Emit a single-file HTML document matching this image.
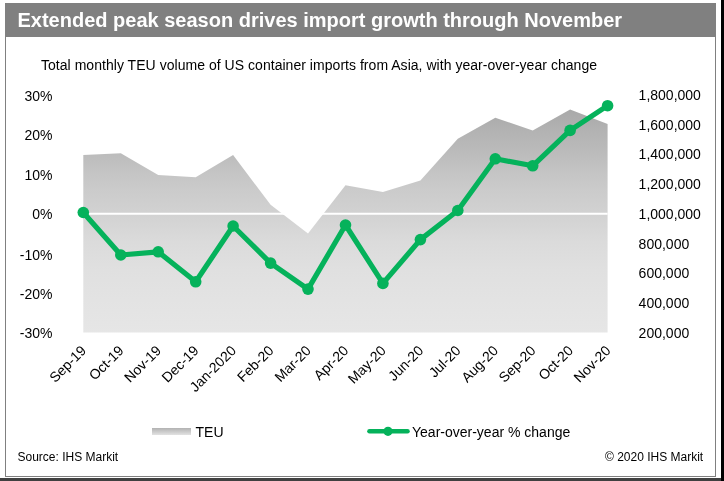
<!DOCTYPE html>
<html><head><meta charset="utf-8"><style>
html,body{margin:0;padding:0;background:#fff;}
body{width:724px;height:481px;overflow:hidden;position:relative;}
svg{position:absolute;left:0;top:0;will-change:transform;}
text{font-family:"Liberation Sans",Arial,sans-serif;font-size:14px;fill:#000;}
</style></head><body>
<svg width="724" height="481" viewBox="0 0 724 481">
<defs>
<linearGradient id="ag" x1="0" y1="108" x2="0" y2="333" gradientUnits="userSpaceOnUse">
<stop offset="0.000" stop-color="rgb(168,168,168)"/>
<stop offset="0.107" stop-color="rgb(179,179,179)"/>
<stop offset="0.196" stop-color="rgb(187,187,187)"/>
<stop offset="0.293" stop-color="rgb(197,197,197)"/>
<stop offset="0.364" stop-color="rgb(203,203,203)"/>
<stop offset="0.427" stop-color="rgb(207,207,207)"/>
<stop offset="0.516" stop-color="rgb(213,213,213)"/>
<stop offset="0.596" stop-color="rgb(219,219,219)"/>
<stop offset="0.720" stop-color="rgb(224,224,224)"/>
<stop offset="0.853" stop-color="rgb(227,227,227)"/>
<stop offset="1.000" stop-color="rgb(230,230,230)"/>
</linearGradient>
<linearGradient id="lg" x1="0" y1="0" x2="0" y2="1">
<stop offset="0" stop-color="#b2b2b2"/>
<stop offset="1" stop-color="#e2e2e2"/>
</linearGradient>
</defs>
<rect x="0" y="0" width="724" height="481" fill="#fff"/>
<rect x="5.5" y="3.5" width="710" height="473" fill="none" stroke="#808080" stroke-width="1"/>
<rect x="5" y="3" width="711" height="34" fill="#808080"/>
<rect x="721" y="0" width="3" height="481" fill="#000"/>
<rect x="0" y="478" width="721" height="3" fill="#404040"/>
<text x="17.5" y="26.6" style="font-size:20px;font-weight:bold;fill:#fff">Extended peak season drives import growth through November</text>
<text x="41" y="69.5" textLength="556" lengthAdjust="spacing">Total monthly TEU volume of US container imports from Asia, with year-over-year change</text>
<path d="M83.3,332.6 L83.3,155 120.8,153.3 158.2,175.1 195.7,177.3 233.1,155 270.6,204.8 308,233.4 345.5,185.2 382.9,192 420.4,180.6 457.8,138.7 495.3,117.8 532.7,130.4 570.1,109.5 607.6,124 L607.6,332.6 Z" fill="url(#ag)"/>
<line x1="83.3" y1="213.8" x2="607.6" y2="213.8" stroke="#fff" stroke-width="2"/>
<polyline points="83.3,212.5 120.8,255 158.2,251.8 195.7,281.8 233.1,226 270.6,263.1 308,289.1 345.5,225 382.9,283.4 420.4,239.6 457.8,210.5 495.3,158.8 532.7,165.8 570.1,130.4 607.6,105.7" fill="none" stroke="#05b25b" stroke-width="5.2" stroke-linejoin="round" stroke-linecap="round"/>
<g fill="#05b25b"><circle cx="83.3" cy="212.5" r="5.8"/><circle cx="120.8" cy="255" r="5.8"/><circle cx="158.2" cy="251.8" r="5.8"/><circle cx="195.7" cy="281.8" r="5.8"/><circle cx="233.1" cy="226" r="5.8"/><circle cx="270.6" cy="263.1" r="5.8"/><circle cx="308" cy="289.1" r="5.8"/><circle cx="345.5" cy="225" r="5.8"/><circle cx="382.9" cy="283.4" r="5.8"/><circle cx="420.4" cy="239.6" r="5.8"/><circle cx="457.8" cy="210.5" r="5.8"/><circle cx="495.3" cy="158.8" r="5.8"/><circle cx="532.7" cy="165.8" r="5.8"/><circle cx="570.1" cy="130.4" r="5.8"/><circle cx="607.6" cy="105.7" r="5.8"/></g>
<text x="52.5" y="100.6" text-anchor="end">30%</text>
<text x="52.5" y="140.3" text-anchor="end">20%</text>
<text x="52.5" y="179.9" text-anchor="end">10%</text>
<text x="52.5" y="219.4" text-anchor="end">0%</text>
<text x="52.5" y="259.7" text-anchor="end">-10%</text>
<text x="52.5" y="299" text-anchor="end">-20%</text>
<text x="52.5" y="338.2" text-anchor="end">-30%</text>

<text x="638.6" y="100">1,800,000</text>
<text x="638.6" y="129.7">1,600,000</text>
<text x="638.6" y="159.4">1,400,000</text>
<text x="638.6" y="189.1">1,200,000</text>
<text x="638.6" y="218.8">1,000,000</text>
<text x="638.6" y="248.5">800,000</text>
<text x="638.6" y="278.2">600,000</text>
<text x="638.6" y="307.9">400,000</text>
<text x="638.6" y="337.6">200,000</text>

<text transform="translate(87.1,351.4) rotate(-45)" text-anchor="end">Sep-19</text>
<text transform="translate(124.5,351.4) rotate(-45)" text-anchor="end">Oct-19</text>
<text transform="translate(162,351.4) rotate(-45)" text-anchor="end">Nov-19</text>
<text transform="translate(199.5,351.4) rotate(-45)" text-anchor="end">Dec-19</text>
<text transform="translate(236.9,351.4) rotate(-45)" text-anchor="end">Jan-2020</text>
<text transform="translate(274.4,351.4) rotate(-45)" text-anchor="end">Feb-20</text>
<text transform="translate(311.8,351.4) rotate(-45)" text-anchor="end">Mar-20</text>
<text transform="translate(349.3,351.4) rotate(-45)" text-anchor="end">Apr-20</text>
<text transform="translate(386.7,351.4) rotate(-45)" text-anchor="end">May-20</text>
<text transform="translate(424.2,351.4) rotate(-45)" text-anchor="end">Jun-20</text>
<text transform="translate(461.6,351.4) rotate(-45)" text-anchor="end">Jul-20</text>
<text transform="translate(499.1,351.4) rotate(-45)" text-anchor="end">Aug-20</text>
<text transform="translate(536.5,351.4) rotate(-45)" text-anchor="end">Sep-20</text>
<text transform="translate(573.9,351.4) rotate(-45)" text-anchor="end">Oct-20</text>
<text transform="translate(611.4,351.4) rotate(-45)" text-anchor="end">Nov-20</text>

<rect x="152" y="428" width="39" height="7" fill="url(#lg)"/>
<text x="195.5" y="437.1">TEU</text>
<line x1="369.5" y1="431.3" x2="407.5" y2="431.3" stroke="#05b25b" stroke-width="4.6" stroke-linecap="round"/>
<circle cx="388" cy="431.3" r="4.6" fill="#05b25b"/>
<text x="412" y="437.1">Year-over-year % change</text>
<text x="17.5" y="460.7" style="font-size:12px">Source: IHS Markit</text>
<text x="703.2" y="460.9" text-anchor="end" style="font-size:12px">© 2020 IHS Markit</text>
</svg>
</body></html>
